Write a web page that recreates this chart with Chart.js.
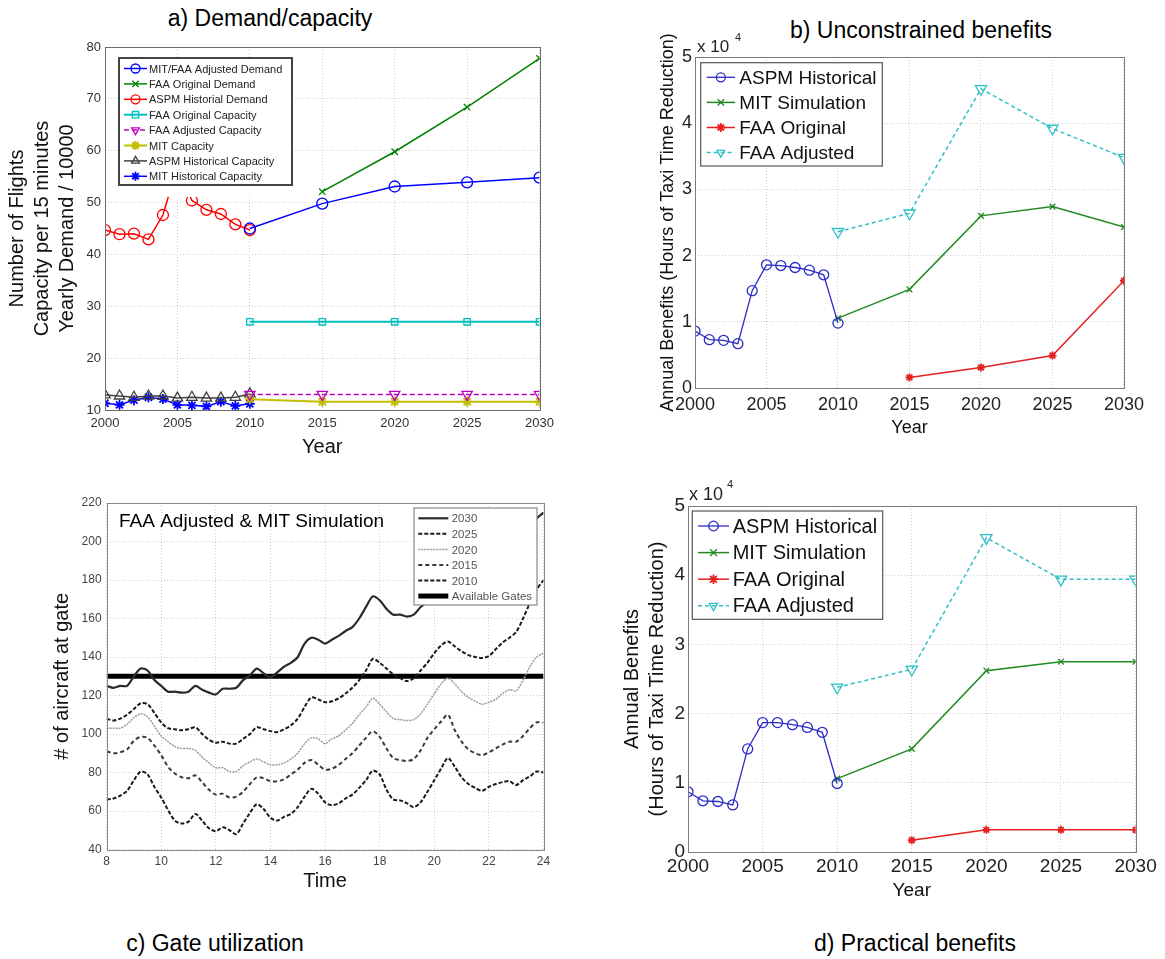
<!DOCTYPE html>
<html><head><meta charset="utf-8">
<script src="https://cdn.jsdelivr.net/npm/chart.js@4.4.1/dist/chart.umd.min.js"></script>
<style>
html,body{margin:0;padding:0;background:#fff;}
body{width:1165px;height:959px;position:relative;overflow:hidden;font-family:"Liberation Sans",Arial,sans-serif;}
canvas{position:absolute;}
.ttl{position:absolute;font-size:23px;color:#000;white-space:nowrap;transform:translateX(-50%);line-height:28px;}
</style></head><body>
<div class="ttl" style="left:270px;top:4px">a) Demand/capacity</div>
<div class="ttl" style="left:921px;top:16px">b) Unconstrained benefits</div>
<div class="ttl" style="left:215px;top:929px">c) Gate utilization</div>
<div class="ttl" style="left:915px;top:929px">d) Practical benefits</div>
<canvas id="ca" width="560" height="470" style="left:0;top:0"></canvas>
<canvas id="cb" width="530" height="450" style="left:620px;top:0"></canvas>
<canvas id="cc" width="560" height="430" style="left:0;top:470px"></canvas>
<canvas id="cd" width="550" height="433" style="left:610px;top:470px"></canvas>
<script>
// ---------- a) Demand / capacity ----------
const yearsHist = [2000,2001,2002,2003,2004,2005,2006,2007,2008,2009,2010];
const yearsProj = [2010,2015,2020,2025,2030];
const aspmHistDemand = [44.7,43.9,44.0,42.9,47.6,57.0,50.4,48.6,47.8,45.8,44.7];
const aspmHistCapacity = [12.9,12.7,12.45,12.7,12.7,12.3,12.45,12.3,12.3,12.45,13.1];
const mitHistCapacity = [11.3,11.0,11.9,12.45,12.1,11.0,10.9,10.7,11.6,10.8,11.2];
const adjDemand = [45.0,49.8,53.1,53.9,54.8];
const faaOrigDemand = [null,52.1,59.8,68.4,77.8];
const faaOrigCapacity = [27,27,27,27,27];
const faaAdjCapacity = [13,13,13,13,13];
const mitCapacity = [12.05,11.6,11.6,11.6,11.6];

// ---------- b) Unconstrained benefits (hours) ----------
const benefitYears = [2010,2015,2020,2025,2030];
const bAspm = [8600,7300,7200,6700,14700,18600,18500,18200,17800,17100,9800];
const bMit = [10550,14900,26000,27400,24300];
const bFaaOrig = [null,1600,3100,4900,16200];
const bFaaAdj = [23600,26400,45200,39200,34800];

// ---------- d) Practical benefits (hours) ----------
const dAspm = [8700,7400,7300,6800,14900,18700,18700,18400,18000,17300,9900];
const dMit = [10600,14900,26200,27500,27500];
const dFaaOrig = [null,1700,3200,3200,3200];
const dFaaAdj = [23800,26400,45400,39400,39400];

// ---------- c) Gate utilization ----------
const gateTimes = [8,8.25,8.5,8.75,9,9.25,9.5,9.75,10,10.25,10.5,10.75,11,11.25,11.5,11.75,12,12.25,12.5,12.75,13,13.25,13.5,13.75,14,14.25,14.5,14.75,15,15.25,15.5,15.75,16,16.25,16.5,16.75,17,17.25,17.5,17.75,18,18.25,18.5,18.75,19,19.25,19.5,19.75,20,20.25,20.5,20.75,21,21.25,21.5,21.75,22,22.25,22.5,22.75,23,23.25,23.5,23.75,24];
const gates2030 = [125,124,125,125,130,134,133,128,125,122,122,121.5,122,125,123,121.5,120.5,123.5,123.5,124,128,130.5,134,131.5,129.5,132,135,137,140,147,150,149,147,149,151,153.5,155.5,160,166,171.5,169.5,165,162,162,161,162,166,168.5,171,174,177,179,180,181,182,183,186,189,192,196,200,204,208,212,215];
const gates2025 = [108,107,108,110,113,116,115.5,111,106,103,102.5,102,102.5,103.5,100,97,95.5,96,95,95,97.5,100,103.5,102.5,101.5,101,102.5,104.5,108,114,119,118,116.5,117,118.5,121,124,128,133,139,137,134,131,129,127.5,129,133,137,142,146,148,145.5,143,141,140,139.5,140.5,144,147.5,150,153,160,168,175,180];
const gates2020 = [103,103,103,105,108.5,110.5,109,104,99,96,93.5,92.5,92.5,91.5,88,85,82.5,82.5,80.5,80.5,83.5,85.5,87,85.5,84,84,85,87,90,95,98,97.5,95,97.5,99,102,105.5,110,114,118.5,115.5,111.5,108,107.5,107,107.5,110.5,115.5,121,126,129,126,122,119,117,115.5,116.5,118,121,123,122.5,128,135,140,142];
const gates2015 = [91,90,90.5,92,96.5,98.5,98,94,89,83,79.5,77.5,77,78.5,75,71,68.5,69,67,67.5,70,74,77.5,77,75.5,75.5,76.5,79,81.5,85,86.5,84,81.5,82,84,87,90,94,98,101.5,98.5,92.5,87.5,86.5,86,87,91.5,98,102.5,106.5,110,102,96,92,90,89,90.5,92.5,94.5,96,96,99,103,106,106];
const gates2010 = [66,66.5,68,70.5,76,80.5,79,72.5,67,60.5,55,53.5,54.5,58.5,55,51,49.5,51.5,50,48,53.5,59,63.5,61,56.5,55,57,58.5,62,67.5,71.5,69,64.5,63,64,66.5,68.5,72,76,81,79,71,66,65.5,64,62,64.5,70,76,82,87.5,83,77.5,74,72,70.5,72.5,74,75,75.5,73.5,76,78,80.5,80];
const availableGates = 130;

// ---------- helpers ----------
const FONT = '"Liberation Sans", Arial, sans-serif';
const pts = (xs, ys) => xs.map((x, i) => ({x: x, y: ys[i]}));

const decor = {
  id: 'decor',
  afterDatasetsDraw(chart, args, o) {
    const ctx = chart.ctx, a = chart.chartArea;
    ctx.save();
    ctx.strokeStyle = o.frameColor || '#777';
    ctx.lineWidth = 1;
    ctx.setLineDash([]);
    ctx.strokeRect(Math.round(a.left) + 0.5, Math.round(a.top) + 0.5, Math.round(a.right - a.left), Math.round(a.bottom - a.top));
    const L = o.legend;
    if (L) {
      ctx.fillStyle = '#fff';
      ctx.fillRect(L.x, L.y, L.w, L.h + (L.extra || 0));
      ctx.lineWidth = L.borderWidth;
      ctx.strokeStyle = L.borderColor;
      ctx.strokeRect(L.x, L.y, L.w, L.h);
      const items = L.items;
      for (let i = 0; i < items.length; i++) {
        const ds = chart.data.datasets[items[i]];
        const yy = L.y + L.row0 + i * L.rowH;
        ctx.save();
        ctx.strokeStyle = ds.borderColor;
        ctx.lineWidth = ds.borderWidth;
        ctx.setLineDash(ds.borderDash || []);
        ctx.beginPath();
        ctx.moveTo(L.x + L.lx0, yy);
        ctx.lineTo(L.x + L.lx1, yy);
        ctx.stroke();
        ctx.setLineDash([]);
        if (ds.pointRadius > 0 && Chart.helpers && Chart.helpers.drawPoint) {
          ctx.fillStyle = ds.pointBackgroundColor || 'rgba(0,0,0,0)';
          ctx.strokeStyle = ds.pointBorderColor || ds.borderColor;
          ctx.lineWidth = ds.pointBorderWidth || 1;
          Chart.helpers.drawPoint(ctx, {pointStyle: ds.pointStyle, rotation: ds.pointRotation || 0, radius: L.markR || ds.pointRadius, borderWidth: ds.pointBorderWidth || 1}, L.x + (L.lx0 + L.lx1) / 2, yy);
        }
        ctx.restore();
        ctx.fillStyle = L.textColor;
        ctx.font = L.font;
        ctx.textBaseline = 'middle';
        ctx.textAlign = 'left';
        ctx.fillText(ds.label, L.x + L.tx, yy + 1);
      }
    }
    const texts = o.texts || [];
    for (let i = 0; i < texts.length; i++) {
      const t = texts[i];
      ctx.font = t.font;
      ctx.fillStyle = t.color;
      ctx.textBaseline = 'middle';
      ctx.textAlign = 'left';
      ctx.fillText(t.text, t.x, t.y);
    }
    ctx.restore();
  }
};

function lineDs(label, data, color, style, opt) {
  return Object.assign({
    label: label, data: data, borderColor: color, backgroundColor: color,
    borderWidth: 1.5, pointStyle: style, pointRadius: 5, pointBorderWidth: 1.3,
    pointBorderColor: color, pointBackgroundColor: 'rgba(0,0,0,0)',
    tension: 0, spanGaps: false, fill: false
  }, opt || {});
}

function yearAxis(fontSize, color, pad, titleSize, titlePadBottom, height) {
  return {
    type: 'linear', min: 2000, max: 2030,
    ticks: {stepSize: 5, autoSkip: false, maxRotation: 0, padding: pad, color: color, font: {family: FONT, size: fontSize}, callback: v => String(v)},
    grid: {color: '#cfcfcf', drawTicks: false, lineWidth: 1},
    border: {display: false, dash: [1, 2]},
    title: {display: true, text: 'Year', color: '#111', font: {family: FONT, size: titleSize, lineHeight: 1.25}, padding: {top: 0, bottom: titlePadBottom}},
    afterFit: s => { s.height = height; }
  };
}

const common = {
  responsive: false, animation: false, events: [],
  plugins: {legend: {display: false}, tooltip: {enabled: false}}
};

// ---------- Chart a ----------
new Chart(document.getElementById('ca'), {
  type: 'line',
  data: {datasets: [
    lineDs('MIT/FAA Adjusted Demand', pts(yearsProj, adjDemand), '#0000ff', 'circle', {pointRadius: 5.5}),
    lineDs('FAA Original Demand', pts(yearsProj, faaOrigDemand), '#008000', 'crossRot', {pointRadius: 4.5}),
    lineDs('ASPM Historial Demand', pts(yearsHist, aspmHistDemand), '#ff0000', 'circle', {pointRadius: 5.5}),
    lineDs('FAA Original Capacity', pts(yearsProj, faaOrigCapacity), '#00bfbf', 'rect', {pointRadius: 4.5, borderWidth: 2}),
    lineDs('FAA Adjusted Capacity', pts(yearsProj, faaAdjCapacity), '#c000c0', 'triangle', {pointRotation: 180, pointRadius: 6, borderDash: [5, 3]}),
    lineDs('MIT Capacity', pts(yearsProj, mitCapacity), '#bfbf00', 'star', {pointRadius: 5, borderWidth: 2, pointBorderWidth: 2}),
    lineDs('ASPM Historical Capacity', pts(yearsHist, aspmHistCapacity), '#404040', 'triangle', {pointRadius: 6}),
    lineDs('MIT Historical Capacity', pts(yearsHist, mitHistCapacity), '#0000ff', 'star', {pointRadius: 5, pointBorderWidth: 1.8})
  ]},
  options: Object.assign({}, common, {
    layout: {padding: {top: 47, right: 18, left: 0, bottom: 0}},
    scales: {
      x: yearAxis(13, '#333', 6, 20, 10.5, 60),
      y: {
        type: 'linear', min: 10, max: 80,
        ticks: {stepSize: 10, padding: 4, color: '#333', font: {family: FONT, size: 13}},
        grid: {color: '#cfcfcf', drawTicks: false},
        border: {display: false, dash: [1, 2]},
        title: {display: true, text: ['Number of Flights', 'Capacity per 15 minutes', 'Yearly Demand / 10000'], color: '#111', font: {family: FONT, size: 20, lineHeight: 1.25}, padding: {top: 4.5, bottom: 0}},
        afterFit: s => { s.width = 105; }
      }
    },
    plugins: Object.assign({}, common.plugins, {
      decor: {
        frameColor: '#6a6a6a',
        legend: {x: 119, y: 58, w: 173, h: 127, extra: 12, row0: 10.5, rowH: 15.4, lx0: 5, lx1: 28, tx: 30, markR: 4.5,
          font: '11px ' + FONT, textColor: '#222', borderColor: '#444', borderWidth: 2, items: [0, 1, 2, 3, 4, 5, 6, 7]},
        texts: []
      }
    })
  }),
  plugins: [decor]
});

// ---------- Chart b / d ----------
function benefitChart(id, aspm, mit, faaOrig, faaAdj, cfg) {
  new Chart(document.getElementById(id), {
    type: 'line',
    data: {datasets: [
      lineDs('ASPM Historical', pts(yearsHist, aspm), '#2b2bc8', 'circle', {pointRadius: 5, borderWidth: 1.3}),
      lineDs('MIT Simulation', pts(benefitYears, mit), '#208a20', 'crossRot', {pointRadius: 4, borderWidth: 1.5}),
      lineDs('FAA Original', pts(benefitYears, faaOrig), '#e52020', 'star', {pointRadius: 4, borderWidth: 1.5, pointBorderWidth: 1.8}),
      lineDs('FAA Adjusted', pts(benefitYears, faaAdj), '#2fc0c8', 'triangle', {pointRotation: 180, pointRadius: 6.5, borderWidth: 1.5, borderDash: [4, 3]})
    ]},
    options: Object.assign({}, common, {
      layout: {padding: {top: cfg.padTop, right: 22, left: 0, bottom: 0}},
      scales: {
        x: yearAxis(cfg.tick, '#222', cfg.xPad, cfg.xTitle, cfg.xTitlePad, cfg.xH),
        y: {
          type: 'linear', min: 0, max: 50000,
          ticks: {stepSize: 10000, padding: 3, color: '#222', font: {family: FONT, size: cfg.tick}, callback: v => String(v / 10000)},
          grid: {color: '#cfcfcf', drawTicks: false},
          border: {display: false, dash: [1, 2]},
          title: {display: true, text: cfg.yTitle, color: '#111', font: {family: FONT, size: cfg.yTitleSize, lineHeight: 1.25}, padding: {top: cfg.yTitlePad, bottom: 0}},
          afterFit: s => { s.width = cfg.yW; }
        }
      },
      plugins: Object.assign({}, common.plugins, {
        decor: {
          frameColor: '#7a7a7a',
          legend: Object.assign({font: cfg.legendFont + 'px ' + FONT, textColor: '#111', borderColor: '#555', borderWidth: 1.2, items: [0, 1, 2, 3], markR: 0}, cfg.legend),
          texts: cfg.texts
        }
      })
    }),
    plugins: [decor]
  });
}

benefitChart('cb', bAspm, bMit, bFaaOrig, bFaaAdj, {
  padTop: 57, tick: 18, xPad: 6, xTitle: 18, xTitlePad: 10.5, xH: 62,
  yTitle: 'Annual Benefits (Hours of Taxi Time Reduction)', yTitleSize: 18, yTitlePad: 36.5, yW: 75,
  legendFont: 19,
  legend: {x: 80.7, y: 62.7, w: 181.6, h: 103.3, row0: 14.6, rowH: 25.1, lx0: 6, lx1: 34.3, tx: 38.6, markR: 4.5},
  texts: [{text: 'x 10', x: 77, y: 47, font: '17px ' + FONT, color: '#222'}, {text: '4', x: 115, y: 38, font: '11px ' + FONT, color: '#222'}]
});

benefitChart('cd', dAspm, dMit, dFaaOrig, dFaaAdj, {
  padTop: 36, tick: 19, xPad: 3.3, xTitle: 19, xTitlePad: 0, xH: 51,
  yTitle: ['Annual Benefits', '(Hours of Taxi Time Reduction)'], yTitleSize: 20, yTitlePad: 9.5, yW: 78,
  legendFont: 20,
  legend: {x: 82.3, y: 41, w: 190.4, h: 108.3, row0: 15, rowH: 26.6, lx0: 5.7, lx1: 36.7, tx: 40.4, markR: 4.8},
  texts: [{text: 'x 10', x: 79, y: 25, font: '18px ' + FONT, color: '#222'}, {text: '4', x: 117, y: 15, font: '11px ' + FONT, color: '#222'}]
});

// ---------- Chart c ----------
new Chart(document.getElementById('cc'), {
  type: 'line',
  data: {datasets: [
    {label: '2030', data: pts(gateTimes, gates2030), borderColor: '#2a2a2a', borderWidth: 2.2, pointRadius: 0, tension: 0.3},
    {label: '2025', data: pts(gateTimes, gates2025), borderColor: '#1a1a1a', borderWidth: 2, borderDash: [4, 2], pointRadius: 0, tension: 0.3},
    {label: '2020', data: pts(gateTimes, gates2020), borderColor: '#9a9a9a', borderWidth: 1.5, borderDash: [2, 1], pointRadius: 0, tension: 0.3},
    {label: '2015', data: pts(gateTimes, gates2015), borderColor: '#3a3a3a', borderWidth: 2, borderDash: [4, 3], pointRadius: 0, tension: 0.3},
    {label: '2010', data: pts(gateTimes, gates2010), borderColor: '#1a1a1a', borderWidth: 2, borderDash: [4, 2], pointRadius: 0, tension: 0.3},
    {label: 'Available Gates', data: [{x: 8, y: availableGates}, {x: 24, y: availableGates}], borderColor: '#000', borderWidth: 5, pointRadius: 0}
  ]},
  options: Object.assign({}, common, {
    layout: {padding: {top: 33, right: 16.5, left: 0, bottom: 0}},
    scales: {
      x: {
        type: 'linear', min: 8, max: 24,
        ticks: {stepSize: 2, autoSkip: false, maxRotation: 0, padding: 5, color: '#444', font: {family: FONT, size: 12}},
        grid: {color: '#cfcfcf', drawTicks: false},
        border: {display: false, dash: [1, 2]},
        title: {display: true, text: 'Time', color: '#111', font: {family: FONT, size: 20, lineHeight: 1.25}, padding: {top: 0, bottom: 5.8}},
        afterFit: s => { s.height = 50.5; }
      },
      y: {
        type: 'linear', min: 40, max: 220,
        ticks: {stepSize: 20, padding: 5, color: '#444', font: {family: FONT, size: 12}},
        grid: {color: '#cfcfcf', drawTicks: false},
        border: {display: false, dash: [1, 2]},
        title: {display: true, text: '# of aircraft at gate', color: '#111', font: {family: FONT, size: 20, lineHeight: 1.25}, padding: {top: 49.5, bottom: 0}},
        afterFit: s => { s.width = 106.6; }
      }
    },
    plugins: Object.assign({}, common.plugins, {
      decor: {
        frameColor: '#888',
        legend: {x: 414, y: 38, w: 123, h: 97, row0: 10.3, rowH: 15.55, lx0: 4.3, lx1: 34.3, tx: 37.7,
          font: '11.5px ' + FONT, textColor: '#555', borderColor: '#888', borderWidth: 1.2, items: [0, 1, 2, 3, 4, 5]},
        texts: [{text: 'FAA Adjusted & MIT Simulation', x: 119, y: 52, font: '19px ' + FONT, color: '#000'}]
      }
    })
  }),
  plugins: [decor]
});
</script>
</body></html>
